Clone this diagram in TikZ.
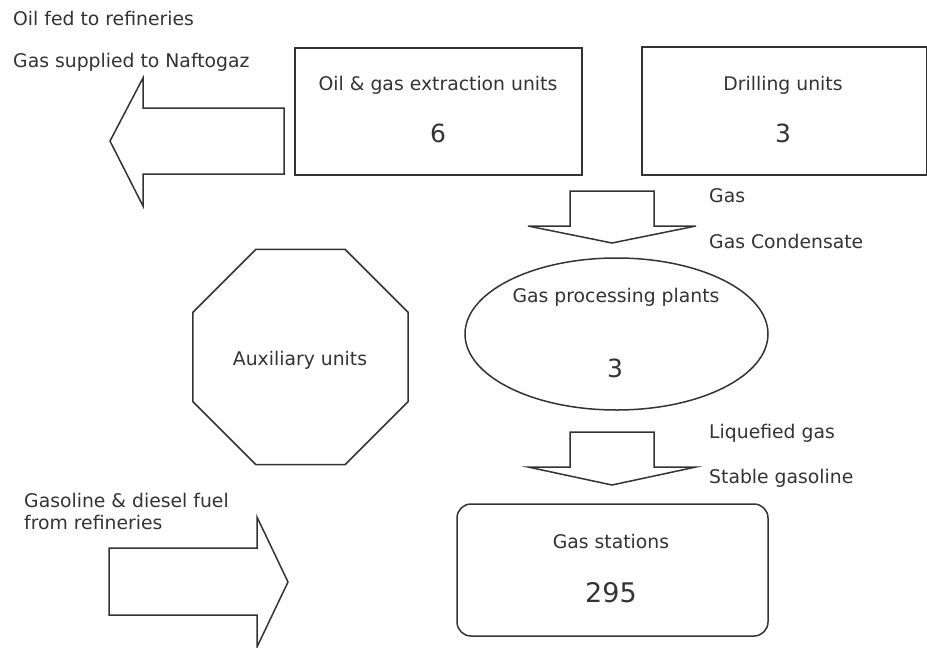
\documentclass[tikz,border=0pt]{standalone}
\usepackage{fontspec}
\setmainfont{DejaVu Sans}
\usetikzlibrary{shapes.geometric}
\definecolor{inkgray}{HTML}{333333}
\tikzset{
	unitbox/.style={draw=inkgray,line width=1.5pt,inner sep=0pt},
	flowarrow/.style={draw=inkgray,line width=1.5pt,line join=miter},
	lbl/.style={inner sep=0pt,text=inkgray,font=\fontsize{18.8}{22}\selectfont},
	count/.style={inner sep=0pt,text=inkgray,font=\fontsize{25}{30}\selectfont},
}
\begin{document}
\begin{tikzpicture}[x=1pt,y=-1pt]
	\useasboundingbox (0,0) rectangle (927,648);

	% Extraction and drilling
	\node[unitbox,rectangle,minimum width=287pt,minimum height=127pt] (extract) at (438.5,111.5) {};
	\node[lbl,anchor=base] (extracttxt) at (438,90) {Oil \& gas extraction units};
	\node[count,anchor=base] (extractnum) at (438,142) {6};

	\node[unitbox,rectangle,minimum width=285pt,minimum height=128pt] (drill) at (784.5,111) {};
	\node[lbl,anchor=base] (drilltxt) at (783,90) {Drilling units};
	\node[count,anchor=base] (drillnum) at (783,142) {3};

	% Gas processing
	\node[unitbox,ellipse,minimum width=303pt,minimum height=152pt] (gpp) at (616.5,334) {};
	\node[lbl,anchor=base] (gpptxt) at (616,302) {Gas processing plants};
	\node[count,anchor=base] (gppnum) at (615,377) {3};

	% Auxiliary
	\node[unitbox,regular polygon,regular polygon sides=8,minimum size=233pt] (aux) at (300.5,357) {};
	\node[lbl,anchor=base] (auxtxt) at (300,365) {Auxiliary units};

	% Gas stations
	\node[unitbox,rectangle,rounded corners=14pt,minimum width=311pt,minimum height=132pt] (stations) at (612.5,570) {};
	\node[lbl,anchor=base] (stationstxt) at (611,548) {Gas stations};
	\node[count,anchor=base,font=\fontsize{27}{32}\selectfont] (stationsnum) at (611,602) {295};

	% Block arrows
	\draw[flowarrow] (284,108) -- (143,108) -- (143,78) -- (110,141) -- (143,206) -- (143,174) -- (284,174) -- cycle;
	\draw[flowarrow] (570,191) -- (654,191) -- (654,226) -- (696,226) -- (612,243) -- (528,226) -- (570,226) -- cycle;
	\draw[flowarrow] (570,432) -- (654,432) -- (654,467) -- (696,467) -- (612,485) -- (528,467) -- (570,467) -- cycle;
	\draw[flowarrow] (109,548) -- (257,548) -- (257,517) -- (288,582) -- (257,647) -- (257,615) -- (109,615) -- cycle;

	% Flow labels
	\node[lbl,anchor=base west] (oilout) at (13,25) {Oil fed to refineries};
	\node[lbl,anchor=base west] (gasout) at (13,67) {Gas supplied to Naftogaz};
	\node[lbl,anchor=base west] (gasin) at (709,202) {Gas};
	\node[lbl,anchor=base west] (condin) at (709,248) {Gas Condensate};
	\node[lbl,anchor=base west] (lpgout) at (709,438) {Liquefied gas};
	\node[lbl,anchor=base west] (gasolineout) at (709,483) {Stable gasoline};
	\node[lbl,anchor=north west,align=left] (fuelin) at (24,493) {Gasoline \& diesel fuel\\from refineries};

\end{tikzpicture}
\end{document}
